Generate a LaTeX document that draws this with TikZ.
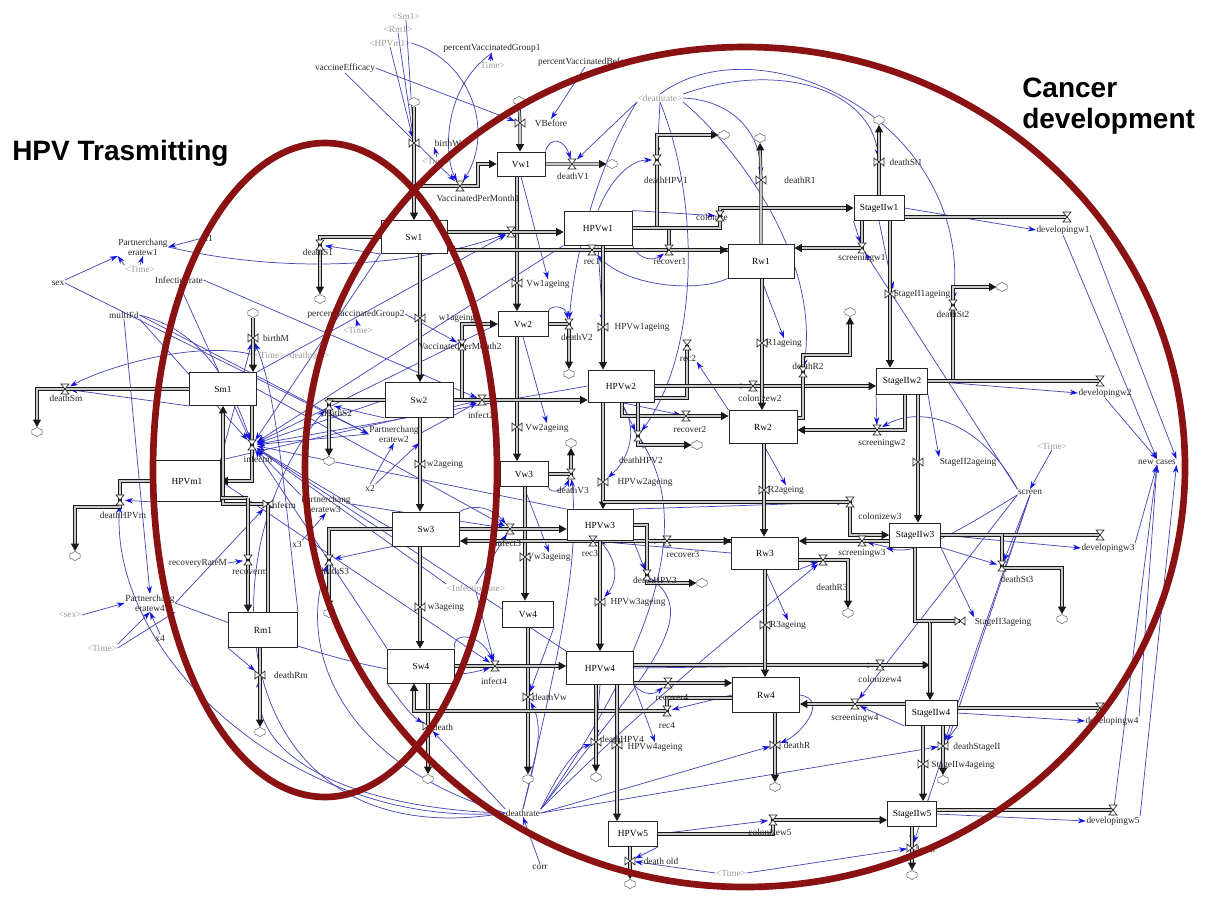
\documentclass[tikz,border=0pt]{standalone}
\usepackage{fontspec}
\setmainfont{Liberation Serif}
\newfontfamily\ttlfont{Liberation Sans}
\usetikzlibrary{arrows.meta,shapes.symbols}
\definecolor{ellred}{RGB}{138,18,18}
\definecolor{infl}{RGB}{72,72,185}
\definecolor{infh}{RGB}{20,20,225}
\pgfdeclarelayer{bglayer}
\pgfdeclarelayer{inflayer}
\pgfdeclarelayer{pipelayer}
\pgfdeclarelayer{toplayer}
\pgfsetlayers{bglayer,inflayer,pipelayer,main,toplayer}
\begin{document}
\begin{tikzpicture}[x=0.75pt,y=-0.75pt,
 stock/.style={draw=black!85,line width=0.7pt,fill=white,inner sep=0pt,font=\fontsize{7}{8}\selectfont},
 stk/.style 2 args={stock,minimum width=#1,minimum height=#2},
 lab/.style={font=\fontsize{7}{7.5}\selectfont,inner sep=0.3pt,text=black!85,align=center},
 ghost/.style={lab,text=black!40},
 vnode/.style={inner sep=0pt,minimum size=7pt},
 cld/.style={cloud,cloud puffs=6,cloud puff arc=130,aspect=1.15,draw=black!50,fill=white,line width=0.5pt,minimum width=8.5pt,minimum height=7pt,inner sep=0pt},
 pipe/.style={draw=black!90,line width=0.55pt,double=black!22,double distance=1.3pt},
 flow/.style={pipe,-{Triangle[length=5.5pt,width=6pt]}},
 inf/.style={draw=infl,line width=0.55pt,-{Stealth[length=6pt,width=4pt,color=infh]}},
 vh/.pic={\draw[black!85,line width=0.5pt,fill=white] (-4,-5)--(4,-5)--(-4,5)--(4,5)--cycle;},
 vv/.pic={\draw[black!85,line width=0.5pt,fill=white] (-5,-4)--(-5,4)--(5,-4)--(5,4)--cycle;},
 ttl/.style={font=\ttlfont\bfseries\fontsize{21}{25}\selectfont,inner sep=0pt,text=black}
]
\begin{pgfonlayer}{bglayer}
\fill[white] (0,0) rectangle (1208,900);
\end{pgfonlayer}
\useasboundingbox (0,0) rectangle (1208,900);

% ---------------- stocks
\node[stk={36pt}{18pt}] (Vw1) at (521,164) {Vw1};
\node[stk={49.5pt}{24.75pt}] (Sw1) at (414,237) {Sw1};
\node[stk={51pt}{25.5pt}] (HPVw1) at (598,228) {HPVw1};
\node[stk={49.5pt}{25.5pt}] (Rw1) at (761,261) {Rw1};
\node[stk={37.5pt}{18.75pt}] (S1) at (879,208) {StageIIw1};
\node[stk={37.5pt}{18.75pt}] (Vw2) at (523,324) {Vw2};
\node[stk={51pt}{26.25pt}] (Sw2) at (419,400) {Sw2};
\node[stk={49.5pt}{24pt}] (HPVw2) at (621,386) {HPVw2};
\node[stk={51pt}{24.75pt}] (Rw2) at (763,427) {Rw2};
\node[stk={38.25pt}{19.5pt}] (S2) at (902,381) {StageIIw2};
\node[stk={36pt}{18.75pt}] (Vw3) at (524,474) {Vw3};
\node[stk={50.25pt}{25.5pt}] (Sw3) at (426,529) {Sw3};
\node[stk={49.5pt}{23.25pt}] (HPVw3) at (600,525) {HPVw3};
\node[stk={50.25pt}{24pt}] (Rw3) at (765,553) {Rw3};
\node[stk={38.25pt}{18pt}] (S3) at (915,535) {StageIIw3};
\node[stk={38.25pt}{19.5pt}] (Vw4) at (528,614) {Vw4};
\node[stk={50.25pt}{25.5pt}] (Sw4) at (421,666) {Sw4};
\node[stk={50.25pt}{24.75pt}] (HPVw4) at (600,668) {HPVw4};
\node[stk={50.25pt}{26.25pt}] (Rw4) at (766,695) {Rw4};
\node[stk={39pt}{18.75pt}] (S4) at (931,713) {StageIIw4};
\node[stk={36.75pt}{18.75pt}] (HPVw5) at (633,834) {HPVw5};
\node[stk={36.75pt}{18.75pt}] (S5) at (912,814) {StageIIw5};
\node[stk={50.25pt}{24.75pt}] (Sm1) at (223,389) {Sm1};
\node[stk={49.5pt}{30.75pt}] (HPVm1) at (187,481) {HPVm1};
\node[stk={51.75pt}{26.25pt}] (Rm1) at (263,630) {Rm1};

% ---------------- clouds
\foreach \n/\p in {cBW/{414,102},cVB/{519,101},cDV1/{612,164},cDH1/{724,135},cDR1/{760,138},cDSt1/{879,120},
  cDSt2/{1002,287},cDS1/{320,299},cBM/{253,313},cDSm/{37,432},cDS2/{329,461},cDV2/{569,374},cDR2/{850,312},
  cDH2/{697,445},cDV3/{571,443},cDHm/{75,556},cDH3/{702,583},cDS3/{329,613},cDR3/{848,613},cDSt3/{1062,619},
  cDRm/{260,732},cDVw/{528,779},cDth/{428,779},cDH4/{596,777},cDR/{775,787},cDSII/{943,780},cDold/{630,884},cDSt5/{912,875}}
  {\node[cld] (\n) at (\p) {};}

% ---------------- valves (names)
\foreach \n/\p in {vBirthW/{414,143},vVBefore/{520,123},vDR1/{761,180},vDSt1/{879,162},vVw1a/{517,283},vS1a/{890,294},
  vW1a/{420,318},vH1a/{603,327},vR1a/{762,343},vBirthM/{253,338},vVw2a/{517,427},vS2a/{918,462},vW2a/{420,464},
  vH2a/{603,482},vR2a/{764,490},vInfecm/{268,504},vVw3a/{525,557},vH3a/{600,602},vW3a/{420,607},vS3a/{960,621},
  vR3a/{765,625},vDRm/{260,675},vDVw/{528,697},vDth/{428,726},vDH4/{596,742},vH4a/{617,745},vDR/{775,745},
  vDSII/{943,746},vS4a/{923,764},vDSt5/{912,848},vDold/{630,861},
  vVPM1/{460,186},vDV1/{572,164},vDH1/{657,160},vCol/{720,216},vRecov1/{669,250},vRec1/{592,250},vInf1/{511,232},
  vScr1/{862,248},vDev1/{1067,217},vDSt2/{953,305},vDS1/{320,245},vVPM2/{462,345},vDV2/{569,324},vRec2/{687,345},
  vDR2/{803,372},vDSm/{65,389},vDS2/{329,405},vInf2/{482,400},vCol2/{753,386},vRecov2/{686,416},vScr2/{877,430},
  vInfm/{252,445},vDH2/{638,436},vDV3/{571,474},vDHm/{120,500},vCol3/{850,502},vInf3/{510,529},vRec3/{593,541},
  vRecov3/{667,541},vScr3/{862,541},vDev3/{1100,535},vDev2/{1100,381},vDS3/{329,560},vRecm/{248,560},vDH3/{647,575},
  vDSt3/{1002,566},vDR3/{823,560},vCol4/{880,665},vInf4/{495,666},vRecov4/{668,683},vScr4/{855,704},vDev4/{1100,708},
  vRec4/{667,711},vCol5/{773,820},vDev5/{1113,810}}
  {\node[vnode] (\n) at (\p) {};}

% junction coordinates
\coordinate (jVPM1) at (414,186); \coordinate (kV1) at (478,186);
\coordinate (xjm) at (248,498); \coordinate (xdhm) at (120,507);
\coordinate (xR2) at (622,416); \coordinate (xS2) at (905,430);
\coordinate (xdr2a) at (803,418); \coordinate (xdr2) at (803,355);
\coordinate (xrc2b) at (687,398);
\coordinate (xc3) at (603,502); \coordinate (xR3) at (647,541);
\coordinate (xdst3) at (1062,568);
\coordinate (xs3a) at (915,621); \coordinate (xs3b) at (930,621);
\coordinate (xc4b) at (930,665);
\coordinate (xr4a) at (667,698); \coordinate (xr4b) at (414,711);

% ---------------- labels
\foreach \n/\p/\t in {lSm1g/{406,16}/{<Sm1>},lRm1g/{398,29}/{<Rm1>},lHm1g/{390,43}/{<HPVm1>},lT1/{490,65}/{<Time>},
  lT2/{437,161}/{<Time>},lDRg/{660,98}/{<deathrate>},lT3/{140,269}/{<Time>},lT4/{358,330}/{<Time>},
  lTD/{292,355}/{<Time><deathrate>},lT5/{1052,446}/{<Time>},lIRg/{476,588}/{<Infectionrate>},lSexg/{70,615}/{<sex>},
  lT6/{102,648}/{<Time>},lT7/{731,873}/{<Time>}}
  {\node[ghost] (\n) at (\p) {\t};}
\foreach \n/\p/\t in {lVE/{345,68}/vaccineEfficacy,lPVG1/{492,48}/percentVaccinatedGroup1,lPVB/{585,62}/percentVaccinatedBefore,
  lVB/{551,123}/VBefore,lBW/{448,143}/birthW,lDV1/{573,176}/deathV1,lDH1/{666,180}/deathHPV1,lDR1/{800,180}/deathR1,
  lDSt1/{906,162}/deathSt1,lVPM1/{478,198}/VaccinatedPerMonth1,lCol/{712,217}/colonize,lRec1/{592,261}/rec1,
  lRecov1/{670,261}/recover1,lVw1a/{548,284}/Vw1ageing,lScr1/{862,258}/screeningw1,lDev1/{1063,230}/developingw1,
  lS1a/{922,294}/StageII1ageing,lDSt2/{953,314}/deathSt2,lX1/{208,238}/x1,lDS1/{318,252}/deathS1,lSex/{58,283}/sex,
  lIR/{179,280}/Infectionrate,lW1a/{457,318}/w1ageing,lPVG2/{356,314}/percentVaccinatedGroup2,lMF/{124,315}/multiFd,
  lH1a/{642,327}/HPVw1ageing,lDV2/{577,337}/deathV2,lR1a/{784,343}/R1ageing,lDR2/{808,366}/deathR2,lRec2/{688,358}/rec2,
  lBM/{276,338}/birthM,lVPM2/{460,346}/VaccinatedPerMonth2,lDSm/{66,398}/deathSm,lDS2/{337,413}/deathS2,
  lInf2/{481,415}/infect2,lCol2/{760,398}/colonizew2,lRecov2/{690,429}/recover2,lVw2a/{547,428}/Vw2ageing,
  lDH2/{641,460}/deathHPV2,lR2a/{786,490}/R2ageing,lScr2/{882,443}/screeningw2,lS2a/{968,462}/StageII2ageing,
  lScreen/{1030,492}/screen,lNew/{1157,462}/new cases,lDev2/{1105,393}/developingw2,lW2a/{445,464}/w2ageing,
  lX2/{370,488}/x2,lDV3/{573,490}/deathV3,lH2a/{645,482}/HPVw2ageing,lDHm/{123,515}/deathHPVm,lInfm/{258,459}/infectm,
  lInfecm/{283,505}/infecm,lCol3/{880,516}/colonizew3,lScr3/{862,553}/screeningw3,lDev3/{1108,548}/developingw3,
  lDSt3/{1017,579}/deathSt3,lX3/{297,544}/x3,lDS3/{334,571}/deathS3,lInf3/{508,543}/infect3,lRec3/{590,553}/rec3,
  lRecov3/{683,554}/recover3,lVw3a/{549,557}/Vw3ageing,lDR3/{832,587}/deathR3,lDH3/{655,580}/deathHPV3,
  lRRM/{198,563}/recoveryRateM,lRecm/{250,572}/recoverm,lH3a/{638,602}/HPVw3ageing,lS3a/{1003,622}/StageII3ageing,
  lR3a/{788,625}/R3ageing,lX4/{160,638}/x4,lW3a/{446,607}/w3ageing,lDRm/{291,675}/deathRm,lInf4/{494,681}/infect4,
  lDVw/{550,697}/deathVw,lCol4/{880,679}/colonizew4,lScr4/{855,718}/screeningw4,lDev4/{1112,721}/developingw4,
  lRec4/{667,725}/rec4,lRecov4/{672,697}/recover4,lDth/{443,727}/death,lDH4/{622,739}/deathHPV4,lH4a/{655,747}/HPVw4ageing,
  lDR/{797,745}/deathR,lDSII/{977,747}/deathStageII,lS4a/{963,765}/StageIIw4ageing,lDRate/{523,813}/deathrate,
  lCol5/{770,832}/colonizew5,lDev5/{1113,821}/developingw5,lCorr/{540,867}/corr,lDold/{661,861}/death old,
  lDSt5/{925,849}/death}
  {\node[lab] (\n) at (\p) {\t};}
\node[lab] (lPCR1) at (143,247) {Partnerchang\\eratew1};
\node[lab] (lPCR2) at (394,434) {Partnerchang\\eratew2};
\node[lab] (lPCR3) at (326,504) {Partnerchang\\eratew3};
\node[lab] (lPCR4) at (150,603) {Partnerchang\\eratew4};

% ---------------- pipes
\begin{pgfonlayer}{pipelayer}
% men
\draw[flow] (cBM.south) -- (vBirthM.center) -- (Sm1.north -| vBirthM);
\draw[flow] (Sm1.west) -- (vDSm.center) -| (cDSm.north);
\draw[flow] (Sm1.south -| vInfm) -- (vInfm.center) |- (HPVm1.east);
\draw[flow] (Rm1.north -| vInfecm) -- (vInfecm.center) -| (Sm1.south);
\draw[pipe] (HPVm1.east |- xjm) -- (xjm);
\draw[flow] (xjm) -- (vRecm.center) -- (Rm1.north -| xjm);
\draw[flow] (HPVm1.west) -| (vDHm.center) -- (xdhm) -| (cDHm.north);
\draw[flow] (Rm1.south -| vDRm) -- (vDRm.center) -- (cDRm.north);
% women S column
\draw[flow] (cBW.south) -- (vBirthW.center) -- (Sw1.north -| vBirthW);
\draw[flow] (jVPM1) -- (vVPM1.center) -- (kV1) |- (Vw1.west);
\draw[flow] (Sw1.west) -| (vDS1.center) -- (cDS1.north);
\draw[flow] (Sw1.south -| vW1a) -- (vW1a.center) -- (Sw2.north -| vW1a);
\draw[flow] (Sw2.west) -| (vDS2.center) -- (cDS2.north);
\draw[flow] (Sw2.south -| vW2a) -- (vW2a.center) -- (Sw3.north -| vW2a);
\draw[flow] (Sw3.west) -| (vDS3.center) -- (cDS3.north);
\draw[flow] (Sw3.south -| vW3a) -- (vW3a.center) -- (Sw4.north -| vW3a);
\draw[flow] (Sw4.south -| vDth) -- (vDth.center) -- (cDth.north);
\draw[flow] (Sw2.east) -| (vVPM2.center) |- (Vw2.west);
% V column
\draw[flow] (cVB.south) -- (vVBefore.center) -- (Vw1.north -| vVBefore);
\draw[flow] (Vw1.east) -- (vDV1.center) -- (cDV1.west);
\draw[flow] (Vw1.south -| vVw1a) -- (vVw1a.center) -- (Vw2.north -| vVw1a);
\draw[flow] (Vw2.east) -- (vDV2.center) -- (cDV2.north);
\draw[flow] (Vw2.south -| vVw2a) -- (vVw2a.center) -- (Vw3.north -| vVw2a);
\draw[flow] (Vw3.east) -- (vDV3.center) -- (cDV3.south);
\draw[flow] (Vw3.south -| vVw3a) -- (vVw3a.center) -- (Vw4.north -| vVw3a);
\draw[flow] (Vw4.south -| vDVw) -- (vDVw.center) -- (cDVw.north);
% infection rows
\draw[flow] (Sw1.east |- vInf1) -- (vInf1.center) -- (HPVw1.west |- vInf1);
\draw[flow] (Sw2.east) -- (vInf2.center) -- (HPVw2.west |- vInf2);
\draw[flow] (Sw3.east) -- (vInf3.center) -- (HPVw3.west |- vInf3);
\draw[flow] (Sw4.east) -- (vInf4.center) -- (HPVw4.west |- vInf4);
% recovery back flows
\draw[flow] (Rw1.west |- vRec1) -- (vRec1.center) -- (Sw1.east |- vRec1);
\draw[flow] (Rw3.west |- vRec3) -- (vRec3.center) -- (Sw3.east |- vRec3);
\draw[flow] (Rw4.west |- xr4a) -- (xr4a) -- (vRec4.center) -- (xr4b) -- (Sw4.south -| xr4b);
\draw[pipe] (vRec2.center) -- (xrc2b) -- (HPVw2.east |- xrc2b);
% HPV row 1
\draw[flow] (HPVw1.east) -| (vRecov1.center) -- (Rw1.west |- vRecov1);
\draw[flow] (HPVw1.east) -| (vDH1.center) |- (cDH1.west);
\draw[flow] (HPVw1.east) -| (vCol.center) |- (S1.west);
\draw[flow] (HPVw1.south -| vH1a) -- (vH1a.center) -- (HPVw2.north -| vH1a);
% HPV row 2
\draw[flow] (HPVw2.east) -- (vCol2.center) -- (S2.west |- vCol2);
\draw[flow] (HPVw2.south -| xR2) -- (xR2) -- (vRecov2.center) -- (Rw2.west |- xR2);
\draw[flow] (HPVw2.south -| vDH2) -- (vDH2.center) |- (cDH2.west);
\draw[flow] (HPVw2.south -| vH2a) -- (vH2a.center) -- (HPVw3.north -| vH2a);
% HPV row 3
\draw[flow] (xc3) -- (vCol3.center) |- (S3.west);
\draw[flow] (HPVw3.east) -| (xR3) -- (vRecov3.center) -- (Rw3.west |- xR3);
\draw[flow] (xR3) -- (vDH3.center) |- (cDH3.west);
\draw[flow] (HPVw3.south -| vH3a) -- (vH3a.center) -- (HPVw4.north -| vH3a);
% HPV row 4/5
\draw[flow] (HPVw4.east |- vCol4) -- (vCol4.center) -- (xc4b);
\draw[flow] (HPVw4.east |- vRecov4) -- (vRecov4.center) -- (Rw4.west |- vRecov4);
\draw[flow] (HPVw4.south -| vDH4) -- (vDH4.center) -- (cDH4.north);
\draw[flow] (HPVw4.south -| vH4a) -- (vH4a.center) -- (HPVw5.north -| vH4a);
\draw[flow] (HPVw5.south -| vDold) -- (vDold.center) -- (cDold.north);
\draw[flow] (HPVw5.east) -| (vCol5.center) -- (S5.west |- vCol5);
% R column
\draw[flow] (Rw1.north) -- (vDR1.center) -- (cDR1.south);
\draw[flow] (Rw1.south -| vR1a) -- (vR1a.center) -- (Rw2.north -| vR1a);
\draw[flow] (Rw2.south -| vR2a) -- (vR2a.center) -- (Rw3.north -| vR2a);
\draw[flow] (Rw3.south -| vR3a) -- (vR3a.center) -- (Rw4.north -| vR3a);
\draw[flow] (Rw4.south -| vDR) -- (vDR.center) -- (cDR.north);
\draw[flow] (Rw2.east |- xdr2a) -- (xdr2a) -- (vDR2.center) -- (xdr2) -| (cDR2.south);
\draw[flow] (Rw3.east |- vDR3) -- (vDR3.center) -| (cDR3.north);
% StageII column
\draw[flow] (S1.north) -- (vDSt1.center) -- (cDSt1.south);
\draw[flow] (S1.south -| vScr1) -- (vScr1.center) -- (Rw1.east |- vScr1);
\draw[pipe] (S1.east |- vDev1) -- (vDev1.center);
\draw[flow] (S1.south -| vS1a) -- (vS1a.center) -- (S2.north -| vS1a);
\draw[flow] (S2.east) -| (vDSt2.center) |- (cDSt2.west);
\draw[pipe] (S2.east) -- (vDev2.center);
\draw[flow] (S2.south -| xS2) -- (xS2) -- (vScr2.center) -- (Rw2.east |- xS2);
\draw[flow] (S2.south -| vS2a) -- (vS2a.center) -- (S3.north -| vS2a);
\draw[pipe] (S3.east) -- (vDev3.center);
\draw[flow] (S3.east) -| (vDSt3.center) |- (xdst3) -- (cDSt3.north);
\draw[flow] (S3.west |- vScr3) -- (vScr3.center) -- (Rw3.east |- vScr3);
\draw[flow] (S3.south -| xs3a) -- (xs3a) -- (xs3b) -- (S4.north -| xs3b);
\draw[pipe] (xs3b) -- (vS3a.center);
\draw[flow] (S4.west |- vScr4) -- (vScr4.center) -- (Rw4.east |- vScr4);
\draw[pipe] (S4.east |- vDev4) -- (vDev4.center);
\draw[flow] (S4.south -| vDSII) -- (vDSII.center) -- (cDSII.north);
\draw[flow] (S4.south -| vS4a) -- (vS4a.center) -- (S5.north -| vS4a);
\draw[pipe] (S5.east |- vDev5) -- (vDev5.center);
\draw[flow] (S5.south -| vDSt5) -- (vDSt5.center) -- (cDSt5.north);
\end{pgfonlayer}

% valve glyphs
\foreach \n in {vBirthW,vVBefore,vDR1,vDSt1,vVw1a,vS1a,vW1a,vH1a,vR1a,vBirthM,vVw2a,vS2a,vW2a,vH2a,vR2a,vInfecm,vVw3a,vH3a,vW3a,vS3a,vR3a,vDRm,vDVw,vDth,vDH4,vH4a,vDR,vDSII,vS4a,vDSt5,vDold}
  {\pic at (\n) {vv};}
\foreach \n in {vVPM1,vDV1,vDH1,vCol,vRecov1,vRec1,vInf1,vScr1,vDev1,vDSt2,vDS1,vVPM2,vDV2,vRec2,vDR2,vDSm,vDS2,vInf2,vCol2,vRecov2,vScr2,vInfm,vDH2,vDV3,vDHm,vCol3,vInf3,vRec3,vRecov3,vScr3,vDev3,vDev2,vDS3,vRecm,vDH3,vDSt3,vDR3,vCol4,vInf4,vRecov4,vScr4,vDev4,vRec4,vCol5,vDev5}
  {\pic at (\n) {vh};}

% ---------------- influence arrows
\begin{pgfonlayer}{inflayer}
\draw[inf] (lSm1g.south) -- (vBirthW);
\draw[inf] (lRm1g.south) -- (vBirthW);
\draw[inf] (lHm1g.south) -- (vBirthW);
\draw[inf] (lVE.south) -- (vVPM1);
\draw[inf] (lVE.east) -- (vVBefore);
\draw[inf] (lPVG1.south) .. controls (440,90) and (445,160) .. (vVPM1);
\draw[inf] (lT1) -- (lPVG1);
\draw[inf] (lHm1g.east) .. controls (470,60) and (495,130) .. (vVPM1);
\draw[inf] (lPVB.south) -- (lVB.north);
\draw[inf] (lT2.north) -- (lBW.south west);
\draw[inf] (lDRg.south west) -- (vDV1);
\draw[inf] (lDRg.south) -- (vDH1);
\draw[inf] (lDRg.east) .. controls (730,100) and (760,130) .. (vDR1);
\draw[inf] (lDRg.north east) .. controls (780,60) and (870,90) .. (vDSt1);
\draw[inf] (lDRg.north) .. controls (760,20) and (970,120) .. (vDSt2);
\draw[inf] (lDRg.south east) .. controls (740,150) and (820,260) .. (vDR2);
\draw[inf] (lDRg.south west) .. controls (600,160) and (575,250) .. (vDV2);
\draw[inf] (lDRg.south) .. controls (700,200) and (700,350) .. (vDH2);
\draw[inf] (Vw1.north east) .. controls (550,135) and (565,140) .. (vDV1);
\draw[inf] (HPVw1.north) .. controls (610,180) and (630,160) .. (vDH1);
\draw[inf] (HPVw1.north east) -- (vCol);
\draw[inf] (HPVw1.south east) .. controls (640,262) and (655,260) .. (vRecov1);
\draw[inf] (Rw1.south west) .. controls (700,292) and (630,288) .. (vRec1);
\draw[inf] (Vw1.south) -- (lVw1a.north);
\draw[inf] (S1.south west) -- (vScr1);
\draw[inf] (S1.east) -- (lDev1.west);
\draw[inf] (S1.south) -- (lS1a.north west);
\draw[inf] (lDev1.south) -- (lNew.north);
\draw[inf] (lDev1.south east) -- (lNew.north east);
\draw[inf] (lDev2.south) -- (lNew.north);
\draw[inf] (lDev3.north east) -- (lNew.south);
\draw[inf] (lDev4.north east) -- (lNew.south);
\draw[inf] (lDev5.north) -- (lNew.south);
\draw[inf] (lDev5.north east) -- (lNew.south east);
\draw[inf] (lT5.south) -- (lScreen.north);
\draw[inf] (lScreen.north west) -- (vScr1);
\draw[inf] (lScreen.north west) .. controls (980,420) and (920,405) .. (vScr2);
\draw[inf] (lScreen.south west) .. controls (960,530) and (920,555) .. (lScr3.north east);
\draw[inf] (lScreen.south west) -- (vScr4);
\draw[inf] (lScreen.south) -- (vDSt3);
\draw[inf] (lScreen.south) -- (vDSII);
\draw[inf] (lScreen.south) -- (vDSt5);
\draw[inf] (S2.east) -- (lDev2.west);
\draw[inf] (S2.south west) -- (vScr2);
\draw[inf] (S2.south east) -- (lS2a.north west);
\draw[inf] (S3.east) -- (lDev3.west);
\draw[inf] (S3.south east) -- (vDSt3);
\draw[inf] (S3.south east) -- (lS3a.north west);
\draw[inf] (S3.south west) -- (vScr3);
\draw[inf] (S4.east) -- (lDev4.west);
\draw[inf] (S4.south east) -- (vDSII);
\draw[inf] (S4.south west) -- (vScr4);
\draw[inf] (S5.east) -- (lDev5.west);
\draw[inf] (S5.south) -- (vDSt5);
\draw[inf] (Rw4.east) .. controls (830,700) and (800,735) .. (vDR);
\draw[inf] (Rw3.south east) -- (vDR3);
\draw[inf] (Rw1.south) -- (lR1a.north);
\draw[inf] (Rw2.south) -- (lR2a.north);
\draw[inf] (Rw3.south) -- (lR3a.north);
\draw[inf] (HPVw2.east) -- (vCol2);
\draw[inf] (HPVw2.south) -- (vDH2);
\draw[inf] (HPVw2.south) -- (vRecov2);
\draw[inf] (Rw2.north west) -- (lRec2.south east);
\draw[inf] (HPVw2.south) .. controls (640,430) and (628,460) .. (vH2a);
\draw[inf] (HPVw1.south) -- (vH1a);
\draw[inf] (Rw3.west) -- (vRec3);
\draw[inf] (HPVw3.south east) -- (vRecov3);
\draw[inf] (HPVw3.south east) -- (vDH3);
\draw[inf] (HPVw3.south) .. controls (622,565) and (615,585) .. (vH3a);
\draw[inf] (HPVw3.north east) -- (vCol3);
\draw[inf] (HPVw4.east) -- (vCol4);
\draw[inf] (HPVw5.east) -- (vCol5);
\draw[inf] (HPVw4.south east) .. controls (645,697) and (655,694) .. (vRecov4);
\draw[inf] (HPVw4.south) -- (vDH4);
\draw[inf] (HPVw4.south east) -- (lH4a.north);
\draw[inf] (Rw4.west) -- (vRec4);
\draw[inf] (HPVw5.south east) -- (vDold);
\draw[inf] (lT7.west) -- (vDold);
\draw[inf] (lT7.east) -- (vDSt5);
\draw[inf] (lCorr.north) -- (lDRate.south);
\draw[inf] (lDRate.north west) -- (vDth);
\draw[inf] (lDRate.north) .. controls (535,760) and (545,730) .. (vDVw);
\draw[inf] (lDRate.north east) .. controls (560,770) and (575,750) .. (vDH4);
\draw[inf] (lDRate.east) -- (vDR);
\draw[inf] (lDRate.east) -- (vDSII);
\draw[inf] (lDRate.north east) .. controls (650,700) and (750,620) .. (vDR3);
\draw[inf] (lDRate.north) .. controls (560,650) and (580,560) .. (vDV3);
\draw[inf] (lDRate.north east) .. controls (640,680) and (700,620) .. (vDH3);
\draw[inf] (lDRate.north east) .. controls (660,640) and (690,520) .. (vDH2);
\draw[inf] (lDRate.west) .. controls (300,830) and (110,660) .. (vDHm);
\draw[inf] (lDRate.west) .. controls (380,810) and (250,770) .. (vDRm);
\draw[inf] (lDRate.west) .. controls (330,760) and (300,640) .. (vDS3);
\draw[inf] (lDRate.west) .. controls (230,860) and (200,560) .. (vDS2);
\draw[inf] (Sw4.north east) .. controls (450,632) and (480,632) .. (vInf4);
\draw[inf] (Sw3.north east) .. controls (470,505) and (490,505) .. (vInf3);
\draw[inf] (Sw1.south west) -- (vDS1);
\draw[inf] (Sw2.south west) -- (vDS2);
\draw[inf] (Sw3.south west) -- (vDS3);
\draw[inf] (Sw4.south west) .. controls (400,700) and (410,715) .. (vDth);
\draw[inf] (Vw2.north east) .. controls (550,305) and (565,305) .. (vDV2);
\draw[inf] (Vw3.south east) .. controls (550,495) and (565,490) .. (vDV3);
\draw[inf] (Vw2.south) -- (lVw2a.north);
\draw[inf] (Vw3.south) -- (lVw3a.north);
\draw[inf] (Vw4.south east) -- (vDVw);
\draw[inf] (lPVG2.east) -- (vVPM2);
\draw[inf] (lT4.north) -- (lPVG2.south);
% left side
\draw[inf] (lSex.north east) -- (lPCR1.south west);
\draw[inf] (lSex.east) -- (lPCR2.west);
\draw[inf] (lX1.west) -- (lPCR1.east);
\draw[inf] (lT3.north) -- (lPCR1.south);
\draw[inf] (lT3.north west) -- (lPCR1.south west);
\draw[inf] (lPCR1.east) .. controls (300,278) and (430,262) .. (vInf1);
\draw[inf] (lIR.east) -- (vInf2);
\draw[inf] (lIR.south) -- (vInfm);
\draw[inf] (lMF.south) -- (lPCR4.north);
\draw[inf] (lMF.south east) -- (vInfm);
\draw[inf] (lMF.east) .. controls (200,330) and (230,380) .. (vInfm);
\draw[inf] (lMF.east) -- (lPCR2.west);
\draw[inf] (lSexg.east) -- (lPCR4.west);
\draw[inf] (lT6.north east) -- (lPCR4.south);
\draw[inf] (lT6.east) -- (lPCR4.south east);
\draw[inf] (lX4.north) -- (lPCR4.south);
\draw[inf] (lPCR4.east) -- (vInfecm);
\draw[inf] (lPCR4.east) .. controls (300,650) and (420,690) .. (vInf4);
\draw[inf] (lX2.north) -- (lPCR2.south);
\draw[inf] (lX2.north east) -- (lPCR2.south east);
\draw[inf] (lX3.north east) -- (lPCR3.south);
\draw[inf] (lPCR2.west) -- (vInfm);
\draw[inf] (lPCR3.north west) -- (vInfm);
\draw[inf] (lPCR2.east) -- (vInf2);
\draw[inf] (lPCR3.east) -- (vInf3);
\draw[inf] (lRRM.east) -- (vRecm);
\draw[inf] (HPVm1.south west) -- (vDHm);
\draw[inf] (Sm1.south west) -- (vDSm);
\draw[inf] (lTD.west) .. controls (200,340) and (110,365) .. (vDSm);
\draw[inf] (Rm1.north east) .. controls (285,500) and (278,400) .. (vBirthM);
\draw[inf] (HPVm1.north east) -- (vBirthM);
\draw[inf] (Rm1.south west) -- (vDRm);
\draw[inf] (Sw1.south west) -- (vInfm);
\draw[inf] (Sw2.west) -- (vInfm);
\draw[inf] (Sw3.west) -- (vInfm);
\draw[inf] (Sw4.north west) -- (vInfm);
\draw[inf] (HPVw1.south west) -- (vInfm);
\draw[inf] (HPVw2.west) -- (vInfm);
\draw[inf] (HPVw3.north west) -- (vInfm);
\draw[inf] (HPVw4.north west) -- (vInfm);
\draw[inf] (Vw2.west) -- (vInfm);
\draw[inf] (lIRg.north west) -- (vInfm);
\draw[inf] (Sm1.north east) -- (vInf1);
\draw[inf] (HPVm1.north east) -- (vInf2);
\draw[inf] (Sm1.east) -- (vInf3);
\draw[inf] (HPVm1.east) -- (vInf4);
\draw[inf] (lIRg.north) -- (vInf3);
\draw[inf] (lIRg.south) -- (vInf4);
\end{pgfonlayer}

% ---------------- overlays
\begin{pgfonlayer}{toplayer}
\draw[ellred,line width=5pt] (325,470) ellipse [x radius=172, y radius=327];
\draw[ellred,line width=5pt] (745,467) ellipse [x radius=440, y radius=420];
\node[ttl,anchor=base west] (tHPV) at (12,160) {HPV Trasmitting};
\node[ttl,anchor=base west] (tC1) at (1022,97) {Cancer};
\node[ttl,anchor=base west] (tC2) at (1022,128) {development};
\end{pgfonlayer}
\end{tikzpicture}
\end{document}
